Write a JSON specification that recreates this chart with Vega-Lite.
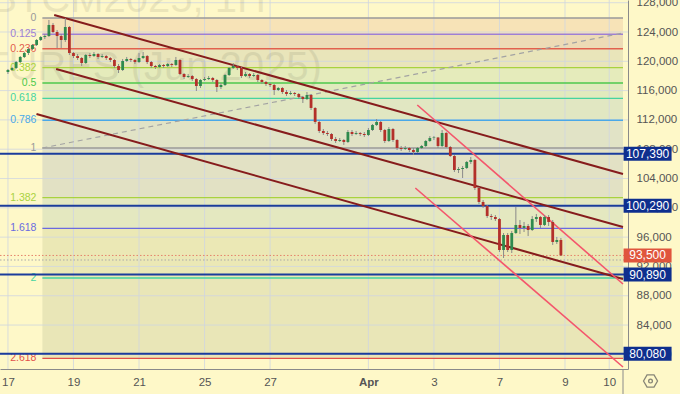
{
  "$schema": "https://vega.github.io/schema/vega-lite/v6.json",
  "width": 628,
  "height": 369,
  "autosize": {"type": "none"},
  "padding": {"left": 0, "top": 0, "right": 52, "bottom": 25},
  "background": "#fef8c8",
  "config": {"view": {"stroke": null}, "font": "Liberation Sans", "axis": {"labelOverlap": false, "labelFlush": false}},
  "resolve": {"scale": {"color": "independent", "fill": "independent"}},
  "datasets": {
    "bands": [
      {"band": "0", "top": 125911, "bot": 123693},
      {"band": "0.125", "top": 123693, "bot": 121723},
      {"band": "0.236", "top": 121723, "bot": 119132},
      {"band": "0.382", "top": 119132, "bot": 117038},
      {"band": "0.5", "top": 117038, "bot": 114945},
      {"band": "0.618", "top": 114945, "bot": 111963},
      {"band": "0.786", "top": 111963, "bot": 108166},
      {"band": "1", "top": 108166, "bot": 101387},
      {"band": "1.382", "top": 101387, "bot": 97200},
      {"band": "1.618", "top": 97200, "bot": 90421},
      {"band": "2", "top": 90421, "bot": 79454}
    ],
    "fib": [
      {"lvl": "0", "p": 125911},
      {"lvl": "0.125", "p": 123693},
      {"lvl": "0.236", "p": 121723},
      {"lvl": "0.382", "p": 119132},
      {"lvl": "0.5", "p": 117038},
      {"lvl": "0.618", "p": 114945},
      {"lvl": "0.786", "p": 111963},
      {"lvl": "1", "p": 108166},
      {"lvl": "1.382", "p": 101387},
      {"lvl": "1.618", "p": 97200},
      {"lvl": "2", "p": 90421},
      {"lvl": "2.618", "p": 79454}
    ],
    "xt": [{"t": 0}, {"t": 2}, {"t": 4}, {"t": 6}, {"t": 8}, {"t": 11}, {"t": 13}, {"t": 15}, {"t": 17}, {"t": 18.35}],
    "yt": [{"p": 80000}, {"p": 84000}, {"p": 88000}, {"p": 92000}, {"p": 96000}, {"p": 100000}, {"p": 104000}, {"p": 108000}, {"p": 112000}, {"p": 116000}, {"p": 120000}, {"p": 124000}, {"p": 128000}],
    "seg": [
      {"k": "chan", "t1": 1.411, "p1": 126320, "t2": 18.77, "p2": 104617},
      {"k": "chan", "t1": 1.471, "p1": 118950, "t2": 18.77, "p2": 97383},
      {"k": "chan", "t1": 0.871, "p1": 112807, "t2": 18.77, "p2": 90284},
      {"k": "pink", "t1": 12.492, "p1": 114035, "t2": 18.77, "p2": 89602},
      {"k": "pink", "t1": 12.432, "p1": 102706, "t2": 18.77, "p2": 78272},
      {"k": "dash", "t1": 1.051, "p1": 108166, "t2": 18.77, "p2": 123864}
    ],
    "hl": [
      {"p": 107390, "lab": "107,390", "k": "navy"},
      {"p": 100290, "lab": "100,290", "k": "navy"},
      {"p": 90890, "lab": "90,890", "k": "navy"},
      {"p": 80080, "lab": "80,080", "k": "navy"},
      {"p": 93500, "lab": "93,500", "k": "red"},
      {"p": 92880, "lab": "", "k": "grey"}
    ],
    "candles": [
      {"t": 0, "o": 118540, "h": 118950, "l": 118270, "c": 118810},
      {"t": 0.125, "o": 118810, "h": 119220, "l": 118680, "c": 119090},
      {"t": 0.25, "o": 119090, "h": 120040, "l": 118950, "c": 119900},
      {"t": 0.375, "o": 119900, "h": 120720, "l": 119770, "c": 120590},
      {"t": 0.5, "o": 120590, "h": 121270, "l": 120450, "c": 121130},
      {"t": 0.625, "o": 121130, "h": 121820, "l": 120860, "c": 121680},
      {"t": 0.75, "o": 121680, "h": 122360, "l": 121540, "c": 122230},
      {"t": 0.875, "o": 122230, "h": 123040, "l": 122090, "c": 122910},
      {"t": 1, "o": 122910, "h": 123450, "l": 122770, "c": 123320},
      {"t": 1.125, "o": 123320, "h": 123730, "l": 123040, "c": 123450},
      {"t": 1.25, "o": 123450, "h": 125640, "l": 123320, "c": 124960},
      {"t": 1.375, "o": 124960, "h": 125230, "l": 123860, "c": 124000},
      {"t": 1.5, "o": 124000, "h": 124270, "l": 121820, "c": 123450},
      {"t": 1.625, "o": 123450, "h": 123730, "l": 121820, "c": 122910},
      {"t": 1.75, "o": 122910, "h": 125910, "l": 122640, "c": 124680},
      {"t": 1.875, "o": 124680, "h": 124820, "l": 120860, "c": 121130},
      {"t": 2, "o": 121130, "h": 121270, "l": 120450, "c": 120720},
      {"t": 2.125, "o": 120720, "h": 121000, "l": 120180, "c": 120450},
      {"t": 2.25, "o": 120450, "h": 120590, "l": 119360, "c": 119770},
      {"t": 2.375, "o": 119770, "h": 121000, "l": 119630, "c": 120860},
      {"t": 2.5, "o": 120860, "h": 121130, "l": 120450, "c": 120720},
      {"t": 2.625, "o": 120720, "h": 121270, "l": 120590, "c": 121000},
      {"t": 2.75, "o": 121000, "h": 121130, "l": 120310, "c": 120590},
      {"t": 2.875, "o": 120590, "h": 121000, "l": 120450, "c": 120720},
      {"t": 3, "o": 120720, "h": 120860, "l": 120180, "c": 120450},
      {"t": 3.125, "o": 120450, "h": 120590, "l": 119900, "c": 120180},
      {"t": 3.25, "o": 120180, "h": 120310, "l": 119090, "c": 119360},
      {"t": 3.375, "o": 119360, "h": 119630, "l": 118400, "c": 118810},
      {"t": 3.5, "o": 118810, "h": 120310, "l": 118680, "c": 120040},
      {"t": 3.625, "o": 120040, "h": 120590, "l": 119900, "c": 120310},
      {"t": 3.75, "o": 120310, "h": 120450, "l": 119900, "c": 120180},
      {"t": 3.875, "o": 120180, "h": 120310, "l": 119630, "c": 119900},
      {"t": 4, "o": 119900, "h": 121130, "l": 119770, "c": 120450},
      {"t": 4.125, "o": 120450, "h": 121270, "l": 120310, "c": 120720},
      {"t": 4.25, "o": 120720, "h": 120860, "l": 119630, "c": 119900},
      {"t": 4.375, "o": 119900, "h": 120040, "l": 119090, "c": 119360},
      {"t": 4.5, "o": 119360, "h": 119500, "l": 118950, "c": 119220},
      {"t": 4.625, "o": 119220, "h": 119630, "l": 119090, "c": 119500},
      {"t": 4.75, "o": 119500, "h": 119630, "l": 119090, "c": 119360},
      {"t": 4.875, "o": 119360, "h": 119770, "l": 119220, "c": 119630},
      {"t": 5, "o": 119630, "h": 119770, "l": 119220, "c": 119500},
      {"t": 5.125, "o": 119500, "h": 120590, "l": 119360, "c": 120180},
      {"t": 5.25, "o": 120180, "h": 120310, "l": 118130, "c": 118270},
      {"t": 5.375, "o": 118270, "h": 118400, "l": 117580, "c": 117860},
      {"t": 5.5, "o": 117860, "h": 118270, "l": 117720, "c": 117990},
      {"t": 5.625, "o": 117990, "h": 118130, "l": 117310, "c": 117580},
      {"t": 5.75, "o": 117580, "h": 117720, "l": 115950, "c": 116630},
      {"t": 5.875, "o": 116630, "h": 117580, "l": 116360, "c": 117450},
      {"t": 6, "o": 117450, "h": 117860, "l": 117310, "c": 117580},
      {"t": 6.125, "o": 117580, "h": 117990, "l": 117450, "c": 117720},
      {"t": 6.25, "o": 117720, "h": 117860, "l": 117180, "c": 117450},
      {"t": 6.375, "o": 117450, "h": 117580, "l": 115810, "c": 116490},
      {"t": 6.5, "o": 116490, "h": 117040, "l": 116220, "c": 116770},
      {"t": 6.625, "o": 116770, "h": 118270, "l": 116630, "c": 118130},
      {"t": 6.75, "o": 118130, "h": 119220, "l": 117990, "c": 119090},
      {"t": 6.875, "o": 119090, "h": 119770, "l": 118950, "c": 119360},
      {"t": 7, "o": 119360, "h": 119500, "l": 118810, "c": 119090},
      {"t": 7.125, "o": 119090, "h": 119220, "l": 117720, "c": 117990},
      {"t": 7.25, "o": 117990, "h": 118540, "l": 117860, "c": 118270},
      {"t": 7.375, "o": 118270, "h": 118400, "l": 117720, "c": 117990},
      {"t": 7.5, "o": 117990, "h": 118400, "l": 117860, "c": 118130},
      {"t": 7.625, "o": 118130, "h": 118270, "l": 117180, "c": 117450},
      {"t": 7.75, "o": 117450, "h": 117580, "l": 116900, "c": 117180},
      {"t": 7.875, "o": 117180, "h": 117310, "l": 116630, "c": 116900},
      {"t": 8, "o": 116900, "h": 117040, "l": 116490, "c": 116770},
      {"t": 8.125, "o": 116770, "h": 116900, "l": 115400, "c": 116080},
      {"t": 8.25, "o": 116080, "h": 116490, "l": 115950, "c": 116360},
      {"t": 8.375, "o": 116360, "h": 116490, "l": 115540, "c": 115810},
      {"t": 8.5, "o": 115810, "h": 116080, "l": 115260, "c": 115540},
      {"t": 8.625, "o": 115540, "h": 115950, "l": 115400, "c": 115670},
      {"t": 8.75, "o": 115670, "h": 115810, "l": 115260, "c": 115540},
      {"t": 8.875, "o": 115540, "h": 115670, "l": 114850, "c": 115130},
      {"t": 9, "o": 115130, "h": 115260, "l": 114310, "c": 114850},
      {"t": 9.125, "o": 114850, "h": 115810, "l": 114720, "c": 115400},
      {"t": 9.25, "o": 115400, "h": 115540, "l": 113350, "c": 113630},
      {"t": 9.375, "o": 113630, "h": 113760, "l": 111440, "c": 111720},
      {"t": 9.5, "o": 111720, "h": 111850, "l": 110210, "c": 110490},
      {"t": 9.625, "o": 110490, "h": 110760, "l": 109940, "c": 110210},
      {"t": 9.75, "o": 110210, "h": 110490, "l": 109800, "c": 110080},
      {"t": 9.875, "o": 110080, "h": 110210, "l": 109120, "c": 109390},
      {"t": 10, "o": 109390, "h": 109670, "l": 108850, "c": 109120},
      {"t": 10.125, "o": 109120, "h": 109530, "l": 108990, "c": 109260},
      {"t": 10.25, "o": 109260, "h": 109390, "l": 108580, "c": 108990},
      {"t": 10.375, "o": 108990, "h": 110620, "l": 108850, "c": 110350},
      {"t": 10.5, "o": 110350, "h": 110620, "l": 109800, "c": 110080},
      {"t": 10.625, "o": 110080, "h": 110490, "l": 109940, "c": 110210},
      {"t": 10.75, "o": 110210, "h": 110350, "l": 109800, "c": 110080},
      {"t": 10.875, "o": 110080, "h": 110350, "l": 109670, "c": 109940},
      {"t": 11, "o": 109940, "h": 110900, "l": 109800, "c": 110620},
      {"t": 11.125, "o": 110620, "h": 111440, "l": 110490, "c": 111310},
      {"t": 11.25, "o": 111310, "h": 112120, "l": 111170, "c": 111720},
      {"t": 11.375, "o": 111720, "h": 111850, "l": 110350, "c": 110620},
      {"t": 11.5, "o": 110620, "h": 110760, "l": 108850, "c": 109120},
      {"t": 11.625, "o": 109120, "h": 111030, "l": 108990, "c": 110760},
      {"t": 11.75, "o": 110760, "h": 110900, "l": 108990, "c": 109260},
      {"t": 11.875, "o": 109260, "h": 109390, "l": 107890, "c": 108170},
      {"t": 12, "o": 108170, "h": 108440, "l": 107760, "c": 108030},
      {"t": 12.125, "o": 108030, "h": 108440, "l": 107890, "c": 108170},
      {"t": 12.25, "o": 108170, "h": 108300, "l": 107620, "c": 107890},
      {"t": 12.375, "o": 107890, "h": 108170, "l": 107210, "c": 107620},
      {"t": 12.5, "o": 107620, "h": 108300, "l": 107480, "c": 108170},
      {"t": 12.625, "o": 108170, "h": 108580, "l": 108030, "c": 108440},
      {"t": 12.75, "o": 108440, "h": 109260, "l": 108300, "c": 109120},
      {"t": 12.875, "o": 109120, "h": 109800, "l": 108990, "c": 109530},
      {"t": 13, "o": 109530, "h": 109800, "l": 109260, "c": 109600},
      {"t": 13.125, "o": 109600, "h": 109670, "l": 108170, "c": 108440},
      {"t": 13.25, "o": 108440, "h": 110620, "l": 108300, "c": 110210},
      {"t": 13.375, "o": 110210, "h": 110350, "l": 108170, "c": 108300},
      {"t": 13.5, "o": 108300, "h": 108440, "l": 106940, "c": 107070},
      {"t": 13.625, "o": 107070, "h": 107210, "l": 104890, "c": 105160},
      {"t": 13.75, "o": 105160, "h": 105570, "l": 104750, "c": 105300},
      {"t": 13.875, "o": 105300, "h": 105710, "l": 104070, "c": 105440},
      {"t": 14, "o": 105440, "h": 106390, "l": 105300, "c": 106260},
      {"t": 14.125, "o": 106260, "h": 106940, "l": 105980, "c": 106530},
      {"t": 14.25, "o": 106530, "h": 106660, "l": 102430, "c": 102710},
      {"t": 14.375, "o": 102710, "h": 102840, "l": 100520, "c": 100800},
      {"t": 14.5, "o": 100800, "h": 101070, "l": 99980, "c": 100250},
      {"t": 14.625, "o": 100250, "h": 100390, "l": 98610, "c": 98880},
      {"t": 14.75, "o": 98880, "h": 99160, "l": 98340, "c": 98750},
      {"t": 14.875, "o": 98750, "h": 99020, "l": 98200, "c": 98470},
      {"t": 15, "o": 98470, "h": 98610, "l": 93970, "c": 94240},
      {"t": 15.125, "o": 94240, "h": 96560, "l": 93150, "c": 96290},
      {"t": 15.25, "o": 96290, "h": 96560, "l": 93970, "c": 94240},
      {"t": 15.375, "o": 94240, "h": 96840, "l": 93830, "c": 96560},
      {"t": 15.5, "o": 96560, "h": 100110, "l": 96430, "c": 97660},
      {"t": 15.625, "o": 97660, "h": 98340, "l": 96430, "c": 97250},
      {"t": 15.75, "o": 97250, "h": 98070, "l": 96700, "c": 97520},
      {"t": 15.875, "o": 97520, "h": 97790, "l": 96150, "c": 96970},
      {"t": 16, "o": 96970, "h": 98880, "l": 96840, "c": 98470},
      {"t": 16.125, "o": 98470, "h": 99160, "l": 98070, "c": 98750},
      {"t": 16.25, "o": 98750, "h": 98880, "l": 97250, "c": 97660},
      {"t": 16.375, "o": 97660, "h": 99020, "l": 97520, "c": 98750},
      {"t": 16.5, "o": 98750, "h": 99020, "l": 97520, "c": 98070},
      {"t": 16.625, "o": 98070, "h": 98340, "l": 94930, "c": 95340},
      {"t": 16.75, "o": 95340, "h": 96020, "l": 95060, "c": 95610},
      {"t": 16.875, "o": 95610, "h": 95880, "l": 93420, "c": 93500}
    ]
  },
  "layer": [
    {
      "data": {"name": "bands"},
      "mark": {"type": "rect"},
      "encoding": {
        "x": {"datum": 1.051, "type": "quantitative", "title": null, "scale": {"domain": [-0.09, 18.77], "nice": false, "zero": false},
          "axis": {"orient": "bottom", "title": null, "grid": false, "ticks": false, "values": [0, 2, 4, 6, 8, 11, 13, 15, 17, 18.35], "labelExpr": "datum.value == 0 ? '17' : datum.value == 2 ? '19' : datum.value == 4 ? '21' : datum.value == 6 ? '25' : datum.value == 8 ? '27' : datum.value == 11 ? 'Apr' : datum.value == 13 ? '3' : datum.value == 15 ? '7' : datum.value == 17 ? '9' : '10'", "labelPadding": 7, "labelFontSize": 11.5, "labelColor": "#555555", "labelFlush": false, "labelOverlap": false, "domainColor": "#8a8a8a", "labelFont": "Liberation Sans", "labelFontWeight": {"condition": {"test": "datum.value == 11", "value": "bold"}, "value": "normal"}}},
        "x2": {"datum": 18.77},
        "y": {"field": "top", "type": "quantitative", "title": null, "scale": {"domain": [78000, 128368], "nice": false, "zero": false},
          "axis": {"orient": "right", "title": null, "grid": false, "ticks": false, "values": [80000, 84000, 88000, 92000, 96000, 100000, 104000, 108000, 112000, 116000, 120000, 124000, 128000], "format": ",d", "labelPadding": 8, "labelFontSize": 11.5, "labelColor": "#555555", "labelOverlap": false, "labelFlush": false, "domainColor": "#8a8a8a", "labelFont": "Liberation Sans"}},
        "y2": {"field": "bot"},
        "fill": {"field": "band", "type": "nominal", "legend": null,
          "scale": {"domain": ["0", "0.125", "0.236", "0.382", "0.5", "0.618", "0.786", "1", "1.382", "1.618", "2"],
            "range": ["#f7e3b7", "#eddbb6", "#e9e5ba", "#e5ebbb", "#e1eabd", "#e1e7c2", "#e1e3c6", "#e2e1c4", "#e4e8c0", "#ebe8b5", "#e9e6b7"]}}
      }
    },
    {
      "data": {"name": "xt"},
      "mark": {"type": "rule", "color": "#cfd6e0", "strokeWidth": 1, "opacity": 0.8},
      "encoding": {"x": {"field": "t", "type": "quantitative", "title": null, "scale": {"domain": [-0.09, 18.77], "nice": false, "zero": false},
        "axis": {"orient": "bottom", "title": null, "grid": false, "ticks": false, "values": [0, 2, 4, 6, 8, 11, 13, 15, 17, 18.35], "labelExpr": "datum.value == 0 ? '17' : datum.value == 2 ? '19' : datum.value == 4 ? '21' : datum.value == 6 ? '25' : datum.value == 8 ? '27' : datum.value == 11 ? 'Apr' : datum.value == 13 ? '3' : datum.value == 15 ? '7' : datum.value == 17 ? '9' : '10'", "labelPadding": 7, "labelFontSize": 11.5, "labelColor": "#555555", "labelFlush": false, "labelOverlap": false, "domainColor": "#8a8a8a", "labelFont": "Liberation Sans", "labelFontWeight": {"condition": {"test": "datum.value == 11", "value": "bold"}, "value": "normal"}}}}
    },
    {
      "data": {"name": "yt"},
      "mark": {"type": "rule", "color": "#cfd6e0", "strokeWidth": 1, "opacity": 0.8},
      "encoding": {"y": {"field": "p", "type": "quantitative", "title": null, "scale": {"domain": [78000, 128368], "nice": false, "zero": false},
        "axis": {"orient": "right", "title": null, "grid": false, "ticks": false, "values": [80000, 84000, 88000, 92000, 96000, 100000, 104000, 108000, 112000, 116000, 120000, 124000, 128000], "format": ",d", "labelPadding": 8, "labelFontSize": 11.5, "labelColor": "#555555", "labelOverlap": false, "labelFlush": false, "domainColor": "#8a8a8a", "labelFont": "Liberation Sans"}}}
    },
    {
      "data": {"values": [{"w": "BTC FUTURES (Jun 2025)", "p": 117448, "t": 9.58}, {"w": "BTCM2025, 1H", "p": 126730, "t": 7.87}]},
      "mark": {"type": "text", "align": "right", "baseline": "alphabetic", "fontSize": 40, "font": "Liberation Sans", "color": "#000000", "opacity": 0.07, "clip": false},
      "encoding": {
        "x": {"field": "t", "type": "quantitative", "title": null, "scale": {"domain": [-0.09, 18.77], "nice": false, "zero": false},
          "axis": {"orient": "bottom", "title": null, "grid": false, "ticks": false, "values": [0, 2, 4, 6, 8, 11, 13, 15, 17, 18.35], "labelExpr": "datum.value == 0 ? '17' : datum.value == 2 ? '19' : datum.value == 4 ? '21' : datum.value == 6 ? '25' : datum.value == 8 ? '27' : datum.value == 11 ? 'Apr' : datum.value == 13 ? '3' : datum.value == 15 ? '7' : datum.value == 17 ? '9' : '10'", "labelPadding": 7, "labelFontSize": 11.5, "labelColor": "#555555", "labelFlush": false, "labelOverlap": false, "domainColor": "#8a8a8a", "labelFont": "Liberation Sans", "labelFontWeight": {"condition": {"test": "datum.value == 11", "value": "bold"}, "value": "normal"}}},
        "y": {"field": "p", "type": "quantitative", "title": null, "scale": {"domain": [78000, 128368], "nice": false, "zero": false},
          "axis": {"orient": "right", "title": null, "grid": false, "ticks": false, "values": [80000, 84000, 88000, 92000, 96000, 100000, 104000, 108000, 112000, 116000, 120000, 124000, 128000], "format": ",d", "labelPadding": 8, "labelFontSize": 11.5, "labelColor": "#555555", "labelOverlap": false, "labelFlush": false, "domainColor": "#8a8a8a", "labelFont": "Liberation Sans"}},
        "text": {"field": "w"}
      }
    },
    {
      "data": {"name": "fib"},
      "mark": {"type": "rule", "strokeWidth": 1.4},
      "encoding": {
        "x": {"datum": 1.051, "type": "quantitative", "title": null, "scale": {"domain": [-0.09, 18.77], "nice": false, "zero": false},
          "axis": {"orient": "bottom", "title": null, "grid": false, "ticks": false, "values": [0, 2, 4, 6, 8, 11, 13, 15, 17, 18.35], "labelExpr": "datum.value == 0 ? '17' : datum.value == 2 ? '19' : datum.value == 4 ? '21' : datum.value == 6 ? '25' : datum.value == 8 ? '27' : datum.value == 11 ? 'Apr' : datum.value == 13 ? '3' : datum.value == 15 ? '7' : datum.value == 17 ? '9' : '10'", "labelPadding": 7, "labelFontSize": 11.5, "labelColor": "#555555", "labelFlush": false, "labelOverlap": false, "domainColor": "#8a8a8a", "labelFont": "Liberation Sans", "labelFontWeight": {"condition": {"test": "datum.value == 11", "value": "bold"}, "value": "normal"}}},
        "x2": {"datum": 18.77},
        "y": {"field": "p", "type": "quantitative", "title": null, "scale": {"domain": [78000, 128368], "nice": false, "zero": false},
          "axis": {"orient": "right", "title": null, "grid": false, "ticks": false, "values": [80000, 84000, 88000, 92000, 96000, 100000, 104000, 108000, 112000, 116000, 120000, 124000, 128000], "format": ",d", "labelPadding": 8, "labelFontSize": 11.5, "labelColor": "#555555", "labelOverlap": false, "labelFlush": false, "domainColor": "#8a8a8a", "labelFont": "Liberation Sans"}},
        "color": {"field": "lvl", "type": "nominal", "legend": null,
          "scale": {"domain": ["0", "0.125", "0.236", "0.382", "0.5", "0.618", "0.786", "1", "1.382", "1.618", "2", "2.618"],
            "range": ["#9a9a9a", "#9d7fd6", "#e2604e", "#a9d23f", "#4cc94c", "#45d4a0", "#4aa8e8", "#9a9a9a", "#a9d23f", "#6a6ae0", "#45d4a0", "#e2504a"]}}
      }
    },
    {
      "data": {"name": "fib"},
      "mark": {"type": "text", "align": "right", "baseline": "middle", "fontSize": 10.5, "font": "Liberation Sans"},
      "encoding": {
        "x": {"datum": 0.87, "type": "quantitative", "title": null, "scale": {"domain": [-0.09, 18.77], "nice": false, "zero": false},
          "axis": {"orient": "bottom", "title": null, "grid": false, "ticks": false, "values": [0, 2, 4, 6, 8, 11, 13, 15, 17, 18.35], "labelExpr": "datum.value == 0 ? '17' : datum.value == 2 ? '19' : datum.value == 4 ? '21' : datum.value == 6 ? '25' : datum.value == 8 ? '27' : datum.value == 11 ? 'Apr' : datum.value == 13 ? '3' : datum.value == 15 ? '7' : datum.value == 17 ? '9' : '10'", "labelPadding": 7, "labelFontSize": 11.5, "labelColor": "#555555", "labelFlush": false, "labelOverlap": false, "domainColor": "#8a8a8a", "labelFont": "Liberation Sans", "labelFontWeight": {"condition": {"test": "datum.value == 11", "value": "bold"}, "value": "normal"}}},
        "y": {"field": "p", "type": "quantitative", "title": null, "scale": {"domain": [78000, 128368], "nice": false, "zero": false},
          "axis": {"orient": "right", "title": null, "grid": false, "ticks": false, "values": [80000, 84000, 88000, 92000, 96000, 100000, 104000, 108000, 112000, 116000, 120000, 124000, 128000], "format": ",d", "labelPadding": 8, "labelFontSize": 11.5, "labelColor": "#555555", "labelOverlap": false, "labelFlush": false, "domainColor": "#8a8a8a", "labelFont": "Liberation Sans"}},
        "text": {"field": "lvl"},
        "color": {"field": "lvl", "type": "nominal", "legend": null,
          "scale": {"domain": ["0", "0.125", "0.236", "0.382", "0.5", "0.618", "0.786", "1", "1.382", "1.618", "2", "2.618"],
            "range": ["#9a9a9a", "#9d7fd6", "#e2604e", "#a9d23f", "#4cc94c", "#45d4a0", "#4aa8e8", "#9a9a9a", "#a9d23f", "#6a6ae0", "#45d4a0", "#e2504a"]}}
      }
    },
    {
      "data": {"name": "seg"},
      "transform": [{"filter": "datum.k == 'dash'"}],
      "mark": {"type": "rule", "color": "#a3a3a3", "strokeWidth": 1.2, "strokeDash": [5, 4]},
      "encoding": {
        "x": {"field": "t1", "type": "quantitative", "title": null, "scale": {"domain": [-0.09, 18.77], "nice": false, "zero": false},
          "axis": {"orient": "bottom", "title": null, "grid": false, "ticks": false, "values": [0, 2, 4, 6, 8, 11, 13, 15, 17, 18.35], "labelExpr": "datum.value == 0 ? '17' : datum.value == 2 ? '19' : datum.value == 4 ? '21' : datum.value == 6 ? '25' : datum.value == 8 ? '27' : datum.value == 11 ? 'Apr' : datum.value == 13 ? '3' : datum.value == 15 ? '7' : datum.value == 17 ? '9' : '10'", "labelPadding": 7, "labelFontSize": 11.5, "labelColor": "#555555", "labelFlush": false, "labelOverlap": false, "domainColor": "#8a8a8a", "labelFont": "Liberation Sans", "labelFontWeight": {"condition": {"test": "datum.value == 11", "value": "bold"}, "value": "normal"}}},
        "x2": {"field": "t2"},
        "y": {"field": "p1", "type": "quantitative", "title": null, "scale": {"domain": [78000, 128368], "nice": false, "zero": false},
          "axis": {"orient": "right", "title": null, "grid": false, "ticks": false, "values": [80000, 84000, 88000, 92000, 96000, 100000, 104000, 108000, 112000, 116000, 120000, 124000, 128000], "format": ",d", "labelPadding": 8, "labelFontSize": 11.5, "labelColor": "#555555", "labelOverlap": false, "labelFlush": false, "domainColor": "#8a8a8a", "labelFont": "Liberation Sans"}},
        "y2": {"field": "p2"}
      }
    },
    {
      "data": {"name": "hl"},
      "transform": [{"filter": "datum.k == 'navy'"}],
      "mark": {"type": "rule", "color": "#1b3c9c", "strokeWidth": 2},
      "encoding": {"y": {"field": "p", "type": "quantitative", "title": null, "scale": {"domain": [78000, 128368], "nice": false, "zero": false},
        "axis": {"orient": "right", "title": null, "grid": false, "ticks": false, "values": [80000, 84000, 88000, 92000, 96000, 100000, 104000, 108000, 112000, 116000, 120000, 124000, 128000], "format": ",d", "labelPadding": 8, "labelFontSize": 11.5, "labelColor": "#555555", "labelOverlap": false, "labelFlush": false, "domainColor": "#8a8a8a", "labelFont": "Liberation Sans"}}}
    },
    {
      "data": {"name": "hl"},
      "transform": [{"filter": "datum.k != 'navy'"}],
      "mark": {"type": "rule", "strokeWidth": 1, "strokeDash": [1.5, 2]},
      "encoding": {
        "y": {"field": "p", "type": "quantitative", "title": null, "scale": {"domain": [78000, 128368], "nice": false, "zero": false},
          "axis": {"orient": "right", "title": null, "grid": false, "ticks": false, "values": [80000, 84000, 88000, 92000, 96000, 100000, 104000, 108000, 112000, 116000, 120000, 124000, 128000], "format": ",d", "labelPadding": 8, "labelFontSize": 11.5, "labelColor": "#555555", "labelOverlap": false, "labelFlush": false, "domainColor": "#8a8a8a", "labelFont": "Liberation Sans"}},
        "color": {"condition": {"test": "datum.k == 'red'", "value": "#e5826b"}, "value": "#a8a8a8"}
      }
    },
    {
      "data": {"name": "seg"},
      "transform": [{"filter": "datum.k == 'chan'"}],
      "mark": {"type": "rule", "color": "#861c1c", "strokeWidth": 2, "clip": true},
      "encoding": {
        "x": {"field": "t1", "type": "quantitative", "title": null, "scale": {"domain": [-0.09, 18.77], "nice": false, "zero": false},
          "axis": {"orient": "bottom", "title": null, "grid": false, "ticks": false, "values": [0, 2, 4, 6, 8, 11, 13, 15, 17, 18.35], "labelExpr": "datum.value == 0 ? '17' : datum.value == 2 ? '19' : datum.value == 4 ? '21' : datum.value == 6 ? '25' : datum.value == 8 ? '27' : datum.value == 11 ? 'Apr' : datum.value == 13 ? '3' : datum.value == 15 ? '7' : datum.value == 17 ? '9' : '10'", "labelPadding": 7, "labelFontSize": 11.5, "labelColor": "#555555", "labelFlush": false, "labelOverlap": false, "domainColor": "#8a8a8a", "labelFont": "Liberation Sans", "labelFontWeight": {"condition": {"test": "datum.value == 11", "value": "bold"}, "value": "normal"}}},
        "x2": {"field": "t2"},
        "y": {"field": "p1", "type": "quantitative", "title": null, "scale": {"domain": [78000, 128368], "nice": false, "zero": false},
          "axis": {"orient": "right", "title": null, "grid": false, "ticks": false, "values": [80000, 84000, 88000, 92000, 96000, 100000, 104000, 108000, 112000, 116000, 120000, 124000, 128000], "format": ",d", "labelPadding": 8, "labelFontSize": 11.5, "labelColor": "#555555", "labelOverlap": false, "labelFlush": false, "domainColor": "#8a8a8a", "labelFont": "Liberation Sans"}},
        "y2": {"field": "p2"}
      }
    },
    {
      "data": {"name": "seg"},
      "transform": [{"filter": "datum.k == 'pink'"}],
      "mark": {"type": "rule", "color": "#f4566c", "strokeWidth": 1.6, "clip": true},
      "encoding": {
        "x": {"field": "t1", "type": "quantitative", "title": null, "scale": {"domain": [-0.09, 18.77], "nice": false, "zero": false},
          "axis": {"orient": "bottom", "title": null, "grid": false, "ticks": false, "values": [0, 2, 4, 6, 8, 11, 13, 15, 17, 18.35], "labelExpr": "datum.value == 0 ? '17' : datum.value == 2 ? '19' : datum.value == 4 ? '21' : datum.value == 6 ? '25' : datum.value == 8 ? '27' : datum.value == 11 ? 'Apr' : datum.value == 13 ? '3' : datum.value == 15 ? '7' : datum.value == 17 ? '9' : '10'", "labelPadding": 7, "labelFontSize": 11.5, "labelColor": "#555555", "labelFlush": false, "labelOverlap": false, "domainColor": "#8a8a8a", "labelFont": "Liberation Sans", "labelFontWeight": {"condition": {"test": "datum.value == 11", "value": "bold"}, "value": "normal"}}},
        "x2": {"field": "t2"},
        "y": {"field": "p1", "type": "quantitative", "title": null, "scale": {"domain": [78000, 128368], "nice": false, "zero": false},
          "axis": {"orient": "right", "title": null, "grid": false, "ticks": false, "values": [80000, 84000, 88000, 92000, 96000, 100000, 104000, 108000, 112000, 116000, 120000, 124000, 128000], "format": ",d", "labelPadding": 8, "labelFontSize": 11.5, "labelColor": "#555555", "labelOverlap": false, "labelFlush": false, "domainColor": "#8a8a8a", "labelFont": "Liberation Sans"}},
        "y2": {"field": "p2"}
      }
    },
    {
      "data": {"name": "candles"},
      "mark": {"type": "rule", "strokeWidth": 1, "color": "#8a8a8a"},
      "encoding": {
        "x": {"field": "t", "type": "quantitative", "title": null, "scale": {"domain": [-0.09, 18.77], "nice": false, "zero": false},
          "axis": {"orient": "bottom", "title": null, "grid": false, "ticks": false, "values": [0, 2, 4, 6, 8, 11, 13, 15, 17, 18.35], "labelExpr": "datum.value == 0 ? '17' : datum.value == 2 ? '19' : datum.value == 4 ? '21' : datum.value == 6 ? '25' : datum.value == 8 ? '27' : datum.value == 11 ? 'Apr' : datum.value == 13 ? '3' : datum.value == 15 ? '7' : datum.value == 17 ? '9' : '10'", "labelPadding": 7, "labelFontSize": 11.5, "labelColor": "#555555", "labelFlush": false, "labelOverlap": false, "domainColor": "#8a8a8a", "labelFont": "Liberation Sans", "labelFontWeight": {"condition": {"test": "datum.value == 11", "value": "bold"}, "value": "normal"}}},
        "y": {"field": "l", "type": "quantitative", "title": null, "scale": {"domain": [78000, 128368], "nice": false, "zero": false},
          "axis": {"orient": "right", "title": null, "grid": false, "ticks": false, "values": [80000, 84000, 88000, 92000, 96000, 100000, 104000, 108000, 112000, 116000, 120000, 124000, 128000], "format": ",d", "labelPadding": 8, "labelFontSize": 11.5, "labelColor": "#555555", "labelOverlap": false, "labelFlush": false, "domainColor": "#8a8a8a", "labelFont": "Liberation Sans"}},
        "y2": {"field": "h"}
      }
    },
    {
      "data": {"name": "candles"},
      "mark": {"type": "bar", "size": 2.8},
      "encoding": {
        "x": {"field": "t", "type": "quantitative", "title": null, "scale": {"domain": [-0.09, 18.77], "nice": false, "zero": false},
          "axis": {"orient": "bottom", "title": null, "grid": false, "ticks": false, "values": [0, 2, 4, 6, 8, 11, 13, 15, 17, 18.35], "labelExpr": "datum.value == 0 ? '17' : datum.value == 2 ? '19' : datum.value == 4 ? '21' : datum.value == 6 ? '25' : datum.value == 8 ? '27' : datum.value == 11 ? 'Apr' : datum.value == 13 ? '3' : datum.value == 15 ? '7' : datum.value == 17 ? '9' : '10'", "labelPadding": 7, "labelFontSize": 11.5, "labelColor": "#555555", "labelFlush": false, "labelOverlap": false, "domainColor": "#8a8a8a", "labelFont": "Liberation Sans", "labelFontWeight": {"condition": {"test": "datum.value == 11", "value": "bold"}, "value": "normal"}}},
        "y": {"field": "o", "type": "quantitative", "title": null, "scale": {"domain": [78000, 128368], "nice": false, "zero": false},
          "axis": {"orient": "right", "title": null, "grid": false, "ticks": false, "values": [80000, 84000, 88000, 92000, 96000, 100000, 104000, 108000, 112000, 116000, 120000, 124000, 128000], "format": ",d", "labelPadding": 8, "labelFontSize": 11.5, "labelColor": "#555555", "labelOverlap": false, "labelFlush": false, "domainColor": "#8a8a8a", "labelFont": "Liberation Sans"}},
        "y2": {"field": "c"},
        "color": {"condition": {"test": "datum.c >= datum.o", "value": "#2f8a4e"}, "value": "#b3302a"}
      }
    },
    {
      "data": {"values": [{"a": 78000, "b": 74500}]},
      "mark": {"type": "rule", "color": "#8a8a8a", "strokeWidth": 1, "clip": false},
      "encoding": {
        "x": {"datum": 18.77, "type": "quantitative", "title": null, "scale": {"domain": [-0.09, 18.77], "nice": false, "zero": false},
          "axis": {"orient": "bottom", "title": null, "grid": false, "ticks": false, "values": [0, 2, 4, 6, 8, 11, 13, 15, 17, 18.35], "labelExpr": "datum.value == 0 ? '17' : datum.value == 2 ? '19' : datum.value == 4 ? '21' : datum.value == 6 ? '25' : datum.value == 8 ? '27' : datum.value == 11 ? 'Apr' : datum.value == 13 ? '3' : datum.value == 15 ? '7' : datum.value == 17 ? '9' : '10'", "labelPadding": 7, "labelFontSize": 11.5, "labelColor": "#555555", "labelFlush": false, "labelOverlap": false, "domainColor": "#8a8a8a", "labelFont": "Liberation Sans", "labelFontWeight": {"condition": {"test": "datum.value == 11", "value": "bold"}, "value": "normal"}}},
        "y": {"field": "a", "type": "quantitative", "title": null, "scale": {"domain": [78000, 128368], "nice": false, "zero": false},
          "axis": {"orient": "right", "title": null, "grid": false, "ticks": false, "values": [80000, 84000, 88000, 92000, 96000, 100000, 104000, 108000, 112000, 116000, 120000, 124000, 128000], "format": ",d", "labelPadding": 8, "labelFontSize": 11.5, "labelColor": "#555555", "labelOverlap": false, "labelFlush": false, "domainColor": "#8a8a8a", "labelFont": "Liberation Sans"}},
        "y2": {"field": "b"}
      }
    },
    {
      "data": {"name": "hl"},
      "transform": [{"filter": "datum.k != 'grey'"}],
      "mark": {"type": "point", "filled": true, "opacity": 1, "size": 2304, "shape": "M-1,-0.29L1,-0.29L1,0.29L-1,0.29Z", "strokeWidth": 0, "clip": false},
      "encoding": {
        "x": {"datum": 19.52, "type": "quantitative", "title": null, "scale": {"domain": [-0.09, 18.77], "nice": false, "zero": false},
          "axis": {"orient": "bottom", "title": null, "grid": false, "ticks": false, "values": [0, 2, 4, 6, 8, 11, 13, 15, 17, 18.35], "labelExpr": "datum.value == 0 ? '17' : datum.value == 2 ? '19' : datum.value == 4 ? '21' : datum.value == 6 ? '25' : datum.value == 8 ? '27' : datum.value == 11 ? 'Apr' : datum.value == 13 ? '3' : datum.value == 15 ? '7' : datum.value == 17 ? '9' : '10'", "labelPadding": 7, "labelFontSize": 11.5, "labelColor": "#555555", "labelFlush": false, "labelOverlap": false, "domainColor": "#8a8a8a", "labelFont": "Liberation Sans", "labelFontWeight": {"condition": {"test": "datum.value == 11", "value": "bold"}, "value": "normal"}}},
        "y": {"field": "p", "type": "quantitative", "title": null, "scale": {"domain": [78000, 128368], "nice": false, "zero": false},
          "axis": {"orient": "right", "title": null, "grid": false, "ticks": false, "values": [80000, 84000, 88000, 92000, 96000, 100000, 104000, 108000, 112000, 116000, 120000, 124000, 128000], "format": ",d", "labelPadding": 8, "labelFontSize": 11.5, "labelColor": "#555555", "labelOverlap": false, "labelFlush": false, "domainColor": "#8a8a8a", "labelFont": "Liberation Sans"}},
        "color": {"condition": {"test": "datum.k == 'red'", "value": "#e0553d"}, "value": "#0e2f8e"}
      }
    },
    {
      "data": {"name": "hl"},
      "transform": [{"filter": "datum.k != 'grey'"}],
      "mark": {"type": "text", "align": "center", "baseline": "middle", "fontSize": 12, "font": "Liberation Sans", "color": "#ffffff", "clip": false},
      "encoding": {
        "x": {"datum": 19.52, "type": "quantitative", "title": null, "scale": {"domain": [-0.09, 18.77], "nice": false, "zero": false},
          "axis": {"orient": "bottom", "title": null, "grid": false, "ticks": false, "values": [0, 2, 4, 6, 8, 11, 13, 15, 17, 18.35], "labelExpr": "datum.value == 0 ? '17' : datum.value == 2 ? '19' : datum.value == 4 ? '21' : datum.value == 6 ? '25' : datum.value == 8 ? '27' : datum.value == 11 ? 'Apr' : datum.value == 13 ? '3' : datum.value == 15 ? '7' : datum.value == 17 ? '9' : '10'", "labelPadding": 7, "labelFontSize": 11.5, "labelColor": "#555555", "labelFlush": false, "labelOverlap": false, "domainColor": "#8a8a8a", "labelFont": "Liberation Sans", "labelFontWeight": {"condition": {"test": "datum.value == 11", "value": "bold"}, "value": "normal"}}},
        "y": {"field": "p", "type": "quantitative", "title": null, "scale": {"domain": [78000, 128368], "nice": false, "zero": false},
          "axis": {"orient": "right", "title": null, "grid": false, "ticks": false, "values": [80000, 84000, 88000, 92000, 96000, 100000, 104000, 108000, 112000, 116000, 120000, 124000, 128000], "format": ",d", "labelPadding": 8, "labelFontSize": 11.5, "labelColor": "#555555", "labelOverlap": false, "labelFlush": false, "domainColor": "#8a8a8a", "labelFont": "Liberation Sans"}},
        "text": {"field": "lab"}
      }
    },
    {
      "data": {"values": [{"p": 76360}]},
      "mark": {"type": "point", "filled": false, "size": 196, "shape": "M-1,0L-0.5,-0.87L0.5,-0.87L1,0L0.5,0.87L-0.5,0.87Z", "color": "#555555", "strokeWidth": 1.3, "clip": false},
      "encoding": {
        "x": {"datum": 19.61, "type": "quantitative", "title": null, "scale": {"domain": [-0.09, 18.77], "nice": false, "zero": false},
          "axis": {"orient": "bottom", "title": null, "grid": false, "ticks": false, "values": [0, 2, 4, 6, 8, 11, 13, 15, 17, 18.35], "labelExpr": "datum.value == 0 ? '17' : datum.value == 2 ? '19' : datum.value == 4 ? '21' : datum.value == 6 ? '25' : datum.value == 8 ? '27' : datum.value == 11 ? 'Apr' : datum.value == 13 ? '3' : datum.value == 15 ? '7' : datum.value == 17 ? '9' : '10'", "labelPadding": 7, "labelFontSize": 11.5, "labelColor": "#555555", "labelFlush": false, "labelOverlap": false, "domainColor": "#8a8a8a", "labelFont": "Liberation Sans", "labelFontWeight": {"condition": {"test": "datum.value == 11", "value": "bold"}, "value": "normal"}}},
        "y": {"field": "p", "type": "quantitative", "title": null, "scale": {"domain": [78000, 128368], "nice": false, "zero": false},
          "axis": {"orient": "right", "title": null, "grid": false, "ticks": false, "values": [80000, 84000, 88000, 92000, 96000, 100000, 104000, 108000, 112000, 116000, 120000, 124000, 128000], "format": ",d", "labelPadding": 8, "labelFontSize": 11.5, "labelColor": "#555555", "labelOverlap": false, "labelFlush": false, "domainColor": "#8a8a8a", "labelFont": "Liberation Sans"}}
      }
    },
    {
      "data": {"values": [{"p": 76360}]},
      "mark": {"type": "point", "filled": false, "size": 14, "shape": "circle", "color": "#555555", "strokeWidth": 1.3, "clip": false},
      "encoding": {
        "x": {"datum": 19.61, "type": "quantitative", "title": null, "scale": {"domain": [-0.09, 18.77], "nice": false, "zero": false},
          "axis": {"orient": "bottom", "title": null, "grid": false, "ticks": false, "values": [0, 2, 4, 6, 8, 11, 13, 15, 17, 18.35], "labelExpr": "datum.value == 0 ? '17' : datum.value == 2 ? '19' : datum.value == 4 ? '21' : datum.value == 6 ? '25' : datum.value == 8 ? '27' : datum.value == 11 ? 'Apr' : datum.value == 13 ? '3' : datum.value == 15 ? '7' : datum.value == 17 ? '9' : '10'", "labelPadding": 7, "labelFontSize": 11.5, "labelColor": "#555555", "labelFlush": false, "labelOverlap": false, "domainColor": "#8a8a8a", "labelFont": "Liberation Sans", "labelFontWeight": {"condition": {"test": "datum.value == 11", "value": "bold"}, "value": "normal"}}},
        "y": {"field": "p", "type": "quantitative", "title": null, "scale": {"domain": [78000, 128368], "nice": false, "zero": false},
          "axis": {"orient": "right", "title": null, "grid": false, "ticks": false, "values": [80000, 84000, 88000, 92000, 96000, 100000, 104000, 108000, 112000, 116000, 120000, 124000, 128000], "format": ",d", "labelPadding": 8, "labelFontSize": 11.5, "labelColor": "#555555", "labelOverlap": false, "labelFlush": false, "domainColor": "#8a8a8a", "labelFont": "Liberation Sans"}}
      }
    }
  ]
}
